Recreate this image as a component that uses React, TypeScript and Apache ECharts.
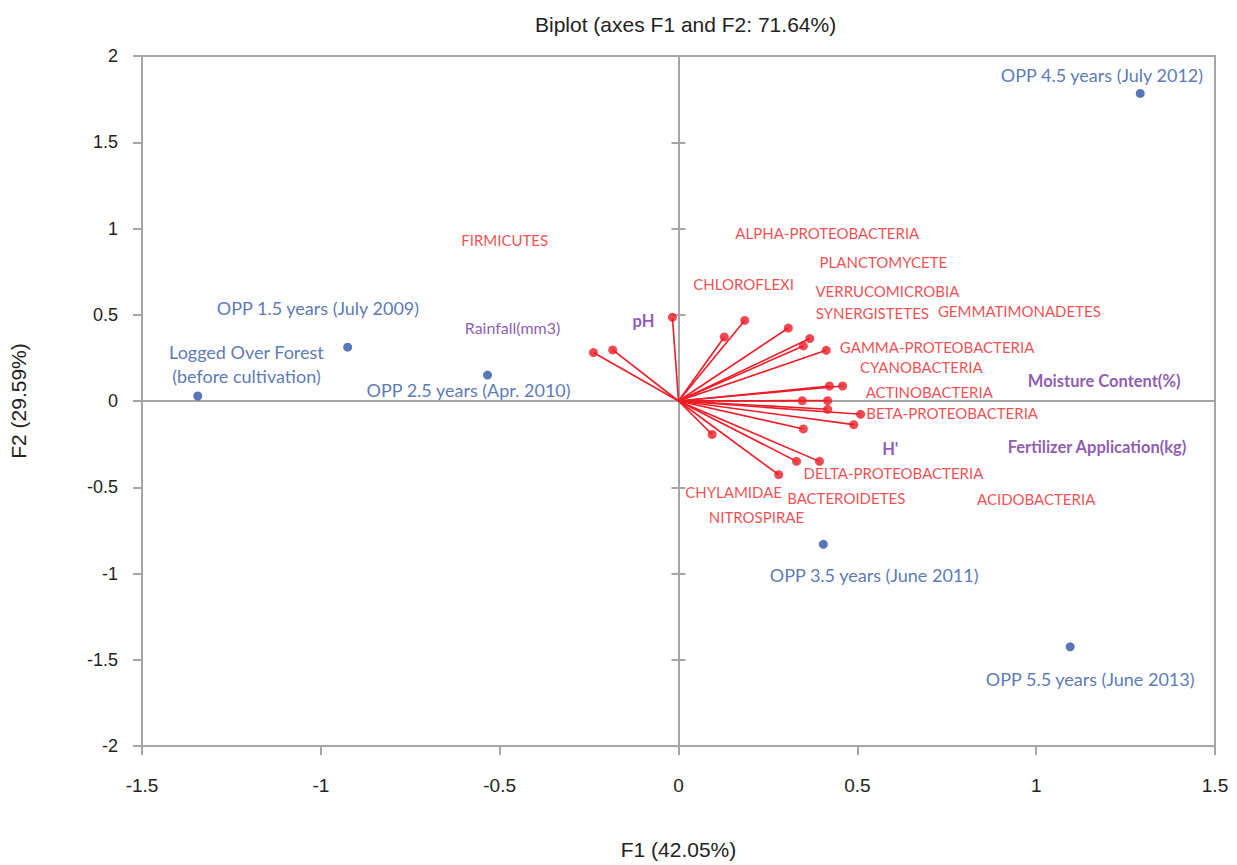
import React, { useEffect, useRef } from "react";
import * as echarts from "echarts";

// Observations (sites)
const siteNames = [
  "Logged Over Forest\n(before cultivation)",
  "OPP 1.5 years (July 2009)",
  "OPP 2.5 years (Apr. 2010)",
  "OPP 3.5 years (June 2011)",
  "OPP 4.5 years (July 2012)",
  "OPP 5.5 years (June 2013)",
];
const siteX = [-1.344, -0.925, -0.534, 0.405, 1.291, 1.095];
const siteY = [0.029, 0.312, 0.15, -0.831, 1.783, -1.425];
const siteLabelX = [-1.208, -1.008, -0.587, 0.547, 1.184, 1.151];
const siteLabelY = [0.213, 0.542, 0.063, -1.01, 1.887, -1.61];

// Variable vectors (end points)
const vecX = [-0.017, -0.238, -0.184, 0.128, 0.185, 0.307, 0.367, 0.349, 0.413, 0.422, 0.459, 0.346, 0.417, 0.417, 0.509, 0.49, 0.349, 0.094, 0.33, 0.394, 0.28];
const vecY = [0.485, 0.281, 0.296, 0.371, 0.467, 0.423, 0.362, 0.319, 0.294, 0.087, 0.087, 0.002, 0.002, -0.048, -0.077, -0.137, -0.162, -0.194, -0.35, -0.35, -0.427];

// Bacteria labels
const bactNames = [
  "FIRMICUTES", "ALPHA-PROTEOBACTERIA", "PLANCTOMYCETE", "CHLOROFLEXI", "VERRUCOMICROBIA",
  "SYNERGISTETES", "GEMMATIMONADETES", "GAMMA-PROTEOBACTERIA", "CYANOBACTERIA", "ACTINOBACTERIA",
  "BETA-PROTEOBACTERIA", "DELTA-PROTEOBACTERIA", "CHYLAMIDAE", "BACTEROIDETES", "ACIDOBACTERIA", "NITROSPIRAE",
];
const bactLabelX = [-0.486, 0.416, 0.573, 0.182, 0.584, 0.542, 0.953, 0.723, 0.679, 0.701, 0.765, 0.601, 0.154, 0.469, 1.0, 0.218];
const bactLabelY = [0.935, 0.975, 0.808, 0.681, 0.635, 0.508, 0.519, 0.312, 0.196, 0.052, -0.069, -0.415, -0.525, -0.56, -0.571, -0.675];

// Environmental variable labels
const envNames = ["Rainfall(mm3)", "pH", "Moisture Content(%)", "H'", "Fertilizer Application(kg)"];
const envLabelX = [-0.464, -0.098, 1.19, 0.592, 1.17];
const envLabelY = [0.427, 0.462, 0.115, -0.277, -0.265];
const envBold = [false, true, true, true, true];

const xTicks = { min: -1.5, max: 1.5, interval: 0.5 };
const yTicks = { min: -2, max: 2, interval: 0.5 };

const AXIS_COLOR = "#a6a6a6";
const BLUE = "#2f55a4";
const RED = "#ee1c25";
const PURPLE = "#7030a0";
const LABEL_FONT = "Lato, 'Noto Sans', sans-serif";
const TICK_FONT = "'Liberation Sans', Arial, sans-serif";

export default function App() {
  const ref = useRef<HTMLDivElement>(null);
  useEffect(() => {
    if (!ref.current) return;
    const chart = echarts.init(ref.current, undefined, { renderer: "svg" });

    const baseX = (extra: any) => ({
      type: "value",
      ...xTicks,
      splitLine: { show: false },
      axisLine: { lineStyle: { color: AXIS_COLOR, width: 2 } },
      axisTick: { lineStyle: { color: AXIS_COLOR, width: 2 }, length: 7 },
      axisLabel: { show: false },
      ...extra,
    });
    const baseY = (extra: any) => ({
      type: "value",
      ...yTicks,
      splitLine: { show: false },
      axisLine: { lineStyle: { color: AXIS_COLOR, width: 2 } },
      axisTick: { lineStyle: { color: AXIS_COLOR, width: 2 }, length: 7 },
      axisLabel: { show: false },
      ...extra,
    });

    const labelSeries = (names: string[], xs: number[], ys: number[], style: (i: number) => any) => ({
      type: "scatter",
      symbol: "rect",
      symbolSize: 1,
      itemStyle: { color: "transparent" },
      silent: true,
      z: 5,
      data: names.map((n, i) => ({
        name: n,
        value: [xs[i], ys[i]],
        label: {
          show: true,
          position: "inside",
          formatter: n,
          ...style(i),
        },
      })),
    });

    const option: any = {
      animation: false,
      backgroundColor: "#ffffff",
      title: {
        text: "Biplot (axes F1 and F2: 71.64%)",
        left: 530,
        top: 9,
        textStyle: { fontSize: 21, fontWeight: "normal", color: "#222", fontFamily: TICK_FONT },
      },
      grid: {
        left: 141,
        right: 22,
        top: 56,
        bottom: 114,
        show: true,
        borderColor: AXIS_COLOR,
        borderWidth: 2,
      },
      xAxis: [
        baseX({
          position: "bottom",
          axisLine: { onZero: false, lineStyle: { color: AXIS_COLOR, width: 2 } },
          axisTick: { lineStyle: { color: AXIS_COLOR, width: 2 }, length: 9 },
          axisLabel: { show: true, fontSize: 19, color: "#222", fontFamily: TICK_FONT, margin: 30 },
          name: "F1 (42.05%)",
          nameLocation: "middle",
          nameGap: 93,
          nameTextStyle: { fontSize: 21, color: "#222", fontFamily: TICK_FONT },
        }),
        baseX({
          position: "bottom",
          axisLine: { onZero: true, onZeroAxisIndex: 0, lineStyle: { color: AXIS_COLOR, width: 2 } },
          axisTick: { show: false },
        }),
      ],
      yAxis: [
        baseY({
          position: "left",
          axisLine: { onZero: false, lineStyle: { color: AXIS_COLOR, width: 2 } },
          axisTick: { lineStyle: { color: AXIS_COLOR, width: 2 }, length: 9 },
          axisLabel: { show: true, fontSize: 18, color: "#222", fontFamily: TICK_FONT, margin: 24 },
          name: "F2 (29.59%)",
          nameLocation: "middle",
          nameGap: 113,
          nameTextStyle: { fontSize: 21, color: "#222", fontFamily: TICK_FONT },
        }),
        baseY({
          position: "left",
          axisLine: { onZero: true, onZeroAxisIndex: 0, lineStyle: { color: AXIS_COLOR, width: 2 } },
        }),
        baseY({
          position: "left",
          axisLine: { onZero: true, onZeroAxisIndex: 0, lineStyle: { color: AXIS_COLOR, width: 2 } },
          axisTick: { inside: true, lineStyle: { color: AXIS_COLOR, width: 2 }, length: 7 },
        }),
      ],
      series: [
        {
          type: "lines",
          coordinateSystem: "cartesian2d",
          silent: true,
          z: 3,
          lineStyle: { color: RED, width: 1.6, opacity: 1 },
          data: vecX.map((x, i) => ({ coords: [[0, 0], [x, vecY[i]]] })),
        },
        {
          type: "scatter",
          symbol: "circle",
          symbolSize: 9,
          z: 4,
          itemStyle: { color: RED },
          data: vecX.map((x, i) => [x, vecY[i]]),
        },
        {
          type: "scatter",
          symbol: "circle",
          symbolSize: 9,
          z: 4,
          itemStyle: { color: BLUE },
          data: siteX.map((x, i) => [x, siteY[i]]),
        },
        labelSeries(siteNames, siteLabelX, siteLabelY, () => ({
          color: BLUE,
          fontSize: 18,
          fontFamily: LABEL_FONT,
          lineHeight: 24,
        })),
        labelSeries(bactNames, bactLabelX, bactLabelY, () => ({
          color: RED,
          fontSize: 15,
          fontFamily: LABEL_FONT,
        })),
        labelSeries(envNames, envLabelX, envLabelY, (i) => ({
          color: PURPLE,
          fontSize: envBold[i] ? 16.5 : 16,
          fontWeight: envBold[i] ? "bold" : "normal",
          fontFamily: LABEL_FONT,
        })),
      ],
    };
    chart.setOption(option);
    return () => chart.dispose();
  }, []);
  return (
    <div
      ref={ref}
      style={{ position: "fixed", left: 0, top: 0, width: 1237, height: 865, background: "#fff" }}
    />
  );
}
